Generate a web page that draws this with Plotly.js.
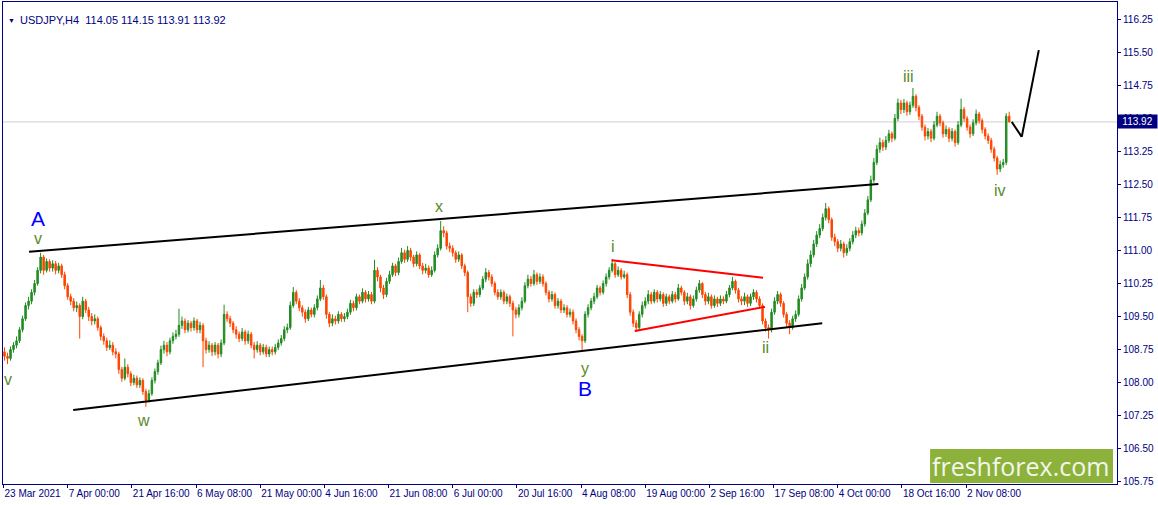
<!DOCTYPE html>
<html>
<head>
<meta charset="utf-8">
<script src="https://cdn.plot.ly/plotly-3.0.1.min.js"></script>
<style>
  html, body { margin: 0; padding: 0; background: #ffffff; }
  #chart { width: 1158px; height: 505px; }
</style>
</head>
<body>
<div id="chart"></div>
<script>
// ---------------- data (12-hour bars) ----------------
const symbolTitle = "USDJPY,H4  114.05 114.15 113.91 113.92";
const firstBar = "2021-03-23T12:00";   // first bar time, bars every 12 h, weekends skipped

const opens = [
108.70,108.60,108.55,108.75,108.85,108.95,109.20,109.45,109.75,109.85,
110.05,110.25,110.55,110.85,110.55,110.75,110.60,110.70,110.55,110.65,
110.45,110.20,109.95,109.85,109.70,109.75,109.50,109.85,109.65,109.50,
109.40,109.45,109.25,109.05,108.95,108.80,108.85,108.70,108.65,108.30,
108.10,108.35,108.20,108.00,108.10,107.95,108.05,107.80,107.60,107.75,
108.05,108.25,108.45,108.75,108.85,108.70,108.95,109.05,109.10,109.30,
109.40,109.20,109.35,109.25,109.40,109.20,109.30,108.95,108.75,108.85,
108.70,108.85,108.65,108.90,109.55,109.45,109.35,109.20,109.10,109.00,
109.15,108.95,109.10,108.85,108.75,108.85,108.70,108.80,108.65,108.75,
108.70,108.80,108.90,109.00,109.20,109.25,109.75,110.05,109.85,109.70,
109.60,109.45,109.65,109.55,109.70,109.90,110.15,109.95,109.55,109.35,
109.45,109.40,109.55,109.45,109.50,109.60,109.80,109.70,109.95,109.85,
110.05,109.90,110.00,109.85,110.55,110.40,110.15,110.00,110.30,110.45,
110.65,110.50,110.75,110.95,110.80,111.00,110.85,110.70,110.90,110.65,
110.55,110.60,110.45,110.55,110.90,111.05,111.45,111.40,111.10,111.05,
110.95,110.80,110.90,110.65,110.50,109.95,109.80,110.05,110.00,110.15,
110.35,110.50,110.40,110.25,110.05,109.95,110.05,109.85,109.95,109.80,
109.65,109.55,109.70,109.85,110.20,110.35,110.25,110.45,110.30,110.40,
110.25,110.05,109.90,110.00,109.75,109.85,109.65,109.70,109.55,109.60,
109.40,109.20,109.05,108.95,109.55,109.70,109.85,109.95,110.15,110.05,
110.25,110.40,110.55,110.70,110.45,110.55,110.40,110.45,110.00,109.60,
109.35,109.25,109.55,109.75,109.85,110.00,109.85,110.05,109.90,110.00,
109.80,109.95,109.85,110.00,109.90,110.15,110.05,109.85,109.95,109.75,
109.90,110.10,110.25,110.00,109.85,109.95,109.75,109.90,109.80,109.90,
109.85,110.00,110.15,110.30,110.10,109.90,109.85,109.95,109.80,109.95,
110.05,109.90,109.75,109.40,109.25,109.20,109.60,109.85,110.00,109.80,
109.55,109.35,109.25,109.45,109.55,109.90,110.15,110.40,110.70,110.90,
111.15,111.35,111.50,111.75,111.95,111.70,111.30,111.20,111.05,111.15,
110.95,111.05,111.20,111.35,111.45,111.40,111.60,111.85,112.15,112.60,
113.00,113.30,113.45,113.35,113.50,113.65,113.55,114.00,114.35,114.20,
114.35,114.15,114.30,114.50,114.25,114.05,113.80,113.60,113.70,113.55,
113.85,114.05,113.90,113.65,113.75,113.55,113.70,113.45,113.85,114.20,
114.00,113.80,113.65,113.90,114.10,113.95,113.75,113.60,113.50,113.30,
113.10,112.85,112.95,113.00,114.05];

const highs = [
108.80,108.68,108.82,108.92,109.05,109.26,109.52,109.82,109.95,110.12,
110.33,110.62,110.95,110.90,110.82,110.80,110.78,110.76,110.72,110.70,
110.52,110.26,110.02,109.92,109.84,109.80,109.95,109.90,109.72,109.58,
109.55,109.50,109.30,109.12,109.02,108.96,108.92,108.78,108.70,108.36,
108.55,108.42,108.26,108.18,108.16,108.12,108.10,107.86,107.84,108.12,
108.32,108.52,108.84,108.95,108.92,109.02,109.14,109.20,109.68,109.50,
109.46,109.42,109.40,109.48,109.45,109.38,109.35,109.02,108.94,108.90,
108.92,108.90,108.98,109.77,109.62,109.52,109.40,109.28,109.16,109.24,
109.20,109.18,109.15,108.92,108.94,108.90,108.88,108.86,108.82,108.82,
108.88,108.98,109.08,109.28,109.34,109.84,110.17,110.10,109.92,109.76,
109.66,109.72,109.70,109.78,109.98,110.33,110.22,110.00,109.60,109.55,
109.52,109.62,109.60,109.58,109.68,109.88,109.86,110.02,110.00,110.14,
110.10,110.08,110.06,110.79,110.62,110.45,110.22,110.38,110.54,110.72,
110.70,110.84,111.06,111.02,111.10,111.06,110.90,110.98,110.94,110.72,
110.70,110.66,110.64,110.98,111.14,111.67,111.55,111.45,111.18,111.12,
111.00,110.98,110.94,110.70,110.55,110.02,110.12,110.12,110.22,110.42,
110.60,110.56,110.46,110.30,110.12,110.12,110.10,110.02,110.00,109.86,
109.72,109.78,109.94,110.28,110.45,110.42,110.56,110.50,110.48,110.46,
110.30,110.10,110.08,110.05,109.92,109.90,109.78,109.76,109.68,109.66,
109.46,109.26,109.10,109.62,109.78,109.92,110.04,110.22,110.20,110.32,
110.48,110.62,110.80,110.74,110.64,110.60,110.54,110.50,110.06,109.66,
109.42,109.62,109.84,109.94,110.10,110.06,110.12,110.10,110.08,110.05,
110.02,110.00,110.08,110.06,110.24,110.20,110.10,110.04,110.00,109.98,
110.18,110.33,110.28,110.06,110.04,110.00,109.98,109.95,109.98,109.96,
110.08,110.22,110.40,110.34,110.15,109.96,110.04,110.00,110.02,110.12,
110.10,109.96,109.80,109.46,109.32,109.68,109.94,110.08,110.05,109.85,
109.60,109.42,109.52,109.64,109.98,110.24,110.48,110.80,111.00,111.24,
111.44,111.60,111.84,112.08,112.00,111.75,111.38,111.26,111.24,111.20,
111.14,111.28,111.44,111.54,111.52,111.68,111.94,112.24,112.70,113.10,
113.40,113.56,113.52,113.60,113.74,113.70,114.10,114.45,114.42,114.44,
114.40,114.38,114.69,114.55,114.30,114.10,113.86,113.78,113.76,113.94,
114.15,114.10,113.95,113.84,113.80,113.78,113.75,113.94,114.45,114.26,
114.05,113.86,113.98,114.20,114.15,114.00,113.80,113.66,113.56,113.36,
113.15,113.04,113.08,114.12,114.15];

const lows = [
108.50,108.42,108.50,108.68,108.78,108.90,109.14,109.40,109.66,109.78,
109.98,110.20,110.48,110.45,110.50,110.52,110.52,110.46,110.48,110.38,
110.12,109.88,109.76,109.62,109.60,109.00,109.44,109.58,109.40,109.30,
109.32,109.18,108.96,108.86,108.72,108.74,108.62,108.55,108.20,108.02,
108.05,108.12,107.92,107.94,107.88,107.88,107.72,107.45,107.55,107.70,
107.98,108.18,108.40,108.66,108.60,108.64,108.88,108.98,109.04,109.22,
109.12,109.14,109.16,109.18,109.12,109.12,108.35,108.66,108.68,108.60,
108.62,108.55,108.58,108.85,109.38,109.26,109.12,109.00,108.92,108.94,
108.86,108.88,108.78,108.55,108.68,108.62,108.64,108.58,108.58,108.62,
108.64,108.74,108.84,108.94,109.12,109.20,109.70,109.78,109.62,109.50,
109.36,109.40,109.48,109.48,109.64,109.85,109.88,109.45,109.26,109.28,
109.32,109.34,109.38,109.38,109.44,109.54,109.62,109.64,109.78,109.80,
109.82,109.84,109.78,109.80,110.30,110.05,109.90,109.94,110.24,110.40,
110.42,110.44,110.70,110.72,110.74,110.76,110.62,110.64,110.58,110.46,
110.48,110.38,110.40,110.50,110.84,111.00,111.30,111.02,110.96,110.86,
110.72,110.74,110.58,110.42,109.60,109.72,109.74,109.92,109.94,110.10,
110.28,110.32,110.18,109.98,109.88,109.88,109.78,109.78,109.72,109.05,
109.46,109.48,109.64,109.80,110.14,110.18,110.20,110.22,110.24,110.18,
109.98,109.82,109.84,109.68,109.68,109.58,109.58,109.48,109.48,109.32,
109.12,108.96,108.74,108.90,109.48,109.64,109.78,109.90,109.98,110.00,
110.18,110.34,110.50,110.38,110.40,110.34,110.36,109.92,109.52,109.26,
109.15,109.20,109.48,109.68,109.78,109.78,109.80,109.82,109.84,109.72,
109.74,109.78,109.80,109.82,109.86,109.98,109.76,109.78,109.66,109.70,
109.84,110.04,109.92,109.76,109.78,109.68,109.70,109.72,109.74,109.78,
109.80,109.94,110.10,110.02,109.82,109.76,109.76,109.72,109.74,109.88,
109.82,109.68,109.32,109.16,109.00,109.14,109.54,109.78,109.72,109.48,
109.26,109.10,109.20,109.38,109.50,109.84,110.10,110.34,110.62,110.84,
111.08,111.28,111.44,111.68,111.62,111.22,111.10,110.96,110.98,110.84,
110.88,110.98,111.14,111.28,111.32,111.34,111.54,111.80,112.10,112.54,
112.94,113.22,113.26,113.28,113.44,113.46,113.50,113.94,114.10,114.12,
114.06,114.08,114.24,114.16,113.96,113.72,113.50,113.52,113.46,113.50,
113.80,113.82,113.56,113.58,113.46,113.48,113.36,113.40,113.80,113.92,
113.72,113.56,113.60,113.84,113.88,113.66,113.52,113.42,113.22,113.02,
112.72,112.78,112.88,112.94,113.91];

const closes = [
108.60,108.55,108.75,108.85,108.95,109.20,109.45,109.75,109.85,110.05,
110.25,110.55,110.85,110.55,110.75,110.60,110.70,110.55,110.65,110.45,
110.20,109.95,109.85,109.70,109.75,109.50,109.85,109.65,109.50,109.40,
109.45,109.25,109.05,108.95,108.80,108.85,108.70,108.65,108.30,108.10,
108.35,108.20,108.00,108.10,107.95,108.05,107.80,107.60,107.75,108.05,
108.25,108.45,108.75,108.85,108.70,108.95,109.05,109.10,109.30,109.40,
109.20,109.35,109.25,109.40,109.20,109.30,108.95,108.75,108.85,108.70,
108.85,108.65,108.90,109.55,109.45,109.35,109.20,109.10,109.00,109.15,
108.95,109.10,108.85,108.75,108.85,108.70,108.80,108.65,108.75,108.70,
108.80,108.90,109.00,109.20,109.25,109.75,110.05,109.85,109.70,109.60,
109.45,109.65,109.55,109.70,109.90,110.15,109.95,109.55,109.35,109.45,
109.40,109.55,109.45,109.50,109.60,109.80,109.70,109.95,109.85,110.05,
109.90,110.00,109.85,110.55,110.40,110.15,110.00,110.30,110.45,110.65,
110.50,110.75,110.95,110.80,111.00,110.85,110.70,110.90,110.65,110.55,
110.60,110.45,110.55,110.90,111.05,111.45,111.40,111.10,111.05,110.95,
110.80,110.90,110.65,110.50,109.95,109.80,110.05,110.00,110.15,110.35,
110.50,110.40,110.25,110.05,109.95,110.05,109.85,109.95,109.80,109.65,
109.55,109.70,109.85,110.20,110.35,110.25,110.45,110.30,110.40,110.25,
110.05,109.90,110.00,109.75,109.85,109.65,109.70,109.55,109.60,109.40,
109.20,109.05,108.95,109.55,109.70,109.85,109.95,110.15,110.05,110.25,
110.40,110.55,110.70,110.45,110.55,110.40,110.45,110.00,109.60,109.35,
109.25,109.55,109.75,109.85,110.00,109.85,110.05,109.90,110.00,109.80,
109.95,109.85,110.00,109.90,110.15,110.05,109.85,109.95,109.75,109.90,
110.10,110.25,110.00,109.85,109.95,109.75,109.90,109.80,109.90,109.85,
110.00,110.15,110.30,110.10,109.90,109.85,109.95,109.80,109.95,110.05,
109.90,109.75,109.40,109.25,109.20,109.60,109.85,110.00,109.80,109.55,
109.35,109.25,109.45,109.55,109.90,110.15,110.40,110.70,110.90,111.15,
111.35,111.50,111.75,111.95,111.70,111.30,111.20,111.05,111.15,110.95,
111.05,111.20,111.35,111.45,111.40,111.60,111.85,112.15,112.60,113.00,
113.30,113.45,113.35,113.50,113.65,113.55,114.00,114.35,114.20,114.35,
114.15,114.30,114.50,114.25,114.05,113.80,113.60,113.70,113.55,113.85,
114.05,113.90,113.65,113.75,113.55,113.70,113.45,113.85,114.20,114.00,
113.80,113.65,113.90,114.10,113.95,113.75,113.60,113.50,113.30,113.10,
112.85,112.95,113.00,114.05,113.92];

const lastPrice = 113.92;

// axis tick labels
const priceTicks = [105.75,106.50,107.25,108.00,108.75,109.50,110.25,111.00,111.75,112.50,113.25,114.00,114.75,115.50,116.25];
const timeTickDates = ["2021-03-23 08:00","2021-04-07 00:00","2021-04-21 16:00","2021-05-06 08:00","2021-05-21 00:00",
  "2021-06-04 16:00","2021-06-21 08:00","2021-07-06 00:00","2021-07-20 16:00","2021-08-04 08:00",
  "2021-08-19 00:00","2021-09-02 16:00","2021-09-17 08:00","2021-10-04 00:00","2021-10-18 16:00","2021-11-02 08:00"];
const timeTickLabels = ["23 Mar 2021","7 Apr 00:00","21 Apr 16:00","6 May 08:00","21 May 00:00","4 Jun 16:00",
  "21 Jun 08:00","6 Jul 00:00","20 Jul 16:00","4 Aug 08:00","19 Aug 00:00","2 Sep 16:00","17 Sep 08:00",
  "4 Oct 00:00","18 Oct 16:00","2 Nov 08:00"];
const viewStart = "2021-03-23 06:00";
const viewEnd   = "2021-12-07 10:00";
const priceMin = 105.698, priceMax = 116.643;

// hand-drawn analysis objects (time, price)
const channelUpperT = ["2021-03-29 14:00","2021-10-12 18:00"], channelUpperP = [110.97,112.51];
const channelLowerT = ["2021-04-07 22:00","2021-09-29 10:00"], channelLowerP = [107.38,109.35];
const triUpperT = ["2021-08-11 10:00","2021-09-15 14:00"], triUpperP = [110.78,110.38];
const triLowerT = ["2021-08-17 06:00","2021-09-15 22:00"], triLowerP = [109.17,109.72];
const projectionT = ["2021-11-11 22:00","2021-11-15 14:00","2021-11-18 10:00"], projectionP = [113.92,113.58,115.55];

const waveText  = ["A","v","v","w","x","y","B","i","ii","iii","iv"];
const waveT     = ["2021-03-31 02:00","2021-03-31 02:00","2021-03-24 02:00","2021-04-23 14:00","2021-07-01 18:00",
                   "2021-08-04 22:00","2021-08-04 22:00","2021-08-11 14:00","2021-09-15 22:00","2021-10-19 18:00","2021-11-09 22:00"];
const waveP     = [111.72,111.28,108.06,107.13,112.01,108.33,107.86,111.10,108.79,114.96,112.37];
const waveMajor = [true,false,false,false,false,false,true,false,false,false,false];

// ---------------- build ----------------
function barTimes(startISO, count) {
  const out = [];
  let t = Date.parse(startISO + ":00Z");
  while (out.length < count) {
    const d = new Date(t);
    const wd = d.getUTCDay();
    if (wd !== 0 && wd !== 6) out.push(d.toISOString().slice(0, 16).replace("T", " "));
    t += 12 * 3600 * 1000;
  }
  return out;
}
const times = barTimes(firstBar, closes.length);

const NAVY = "#000080";
const FONT = "Liberation Sans, Arial, sans-serif";

const candles = {
  type: "candlestick",
  x: times, open: opens, high: highs, low: lows, close: closes,
  increasing: { line: { color: "#228b22", width: 1 }, fillcolor: "#228b22" },
  decreasing: { line: { color: "#ff4500", width: 1 }, fillcolor: "#ff4500" },
  whiskerwidth: 0,
  hoverinfo: "skip",
  showlegend: false
};

function segs(T, P, color, width) {
  const out = [];
  for (let i = 0; i < T.length - 1; i++) {
    out.push({ type: "line", xref: "x", yref: "y", x0: T[i], y0: P[i], x1: T[i + 1], y1: P[i + 1],
               line: { color: color, width: width } });
  }
  return out;
}

const shapes = [
  { type: "line", xref: "paper", yref: "y", x0: 0, x1: 1, y0: lastPrice, y1: lastPrice,
    line: { color: "#d0d0d0", width: 1 }, layer: "below" },
  ...segs(channelUpperT, channelUpperP, "#000000", 2),
  ...segs(channelLowerT, channelLowerP, "#000000", 2),
  ...segs(triUpperT, triUpperP, "#ff0000", 2),
  ...segs(triLowerT, triLowerP, "#ff0000", 2),
  ...segs(projectionT, projectionP, "#000000", 2),
  { type: "rect", xref: "paper", yref: "paper", x0: 0.8322, x1: 0.9964, y0: 0.002, y1: 0.0726,
    fillcolor: "#8cb23c", line: { width: 0 } }
];

const annotations = [];
for (let i = 0; i < waveText.length; i++) {
  annotations.push({
    x: waveT[i], y: waveP[i], xref: "x", yref: "y", text: waveText[i], showarrow: false,
    font: waveMajor[i] ? { family: FONT, size: 21, color: "#0000ff" }
                       : { family: FONT, size: 16, color: "#5a8a2a" },
    xanchor: "center", yanchor: "middle"
  });
}
annotations.push({
  xref: "paper", yref: "paper", x: 0.0027, y: 0.9625, xanchor: "left", yanchor: "middle",
  text: "\u25BC", showarrow: false, font: { family: FONT, size: 7, color: NAVY }
});
annotations.push({
  xref: "paper", yref: "paper", x: 0.0135, y: 0.9625, xanchor: "left", yanchor: "middle",
  text: symbolTitle.replace(/ /g, "&nbsp;"), showarrow: false, font: { family: FONT, size: 11, color: NAVY }
});
annotations.push({
  xref: "paper", yref: "y", x: 1, y: lastPrice, xanchor: "left", yanchor: "middle",
  xshift: 0, text: lastPrice.toFixed(2), showarrow: false,
  bgcolor: NAVY, borderpad: 1, font: { family: FONT, size: 10, color: "#ffffff" },
  width: 37, align: "center"
});
annotations.push({
  xref: "paper", yref: "paper", x: 0.9138, y: 0.0373, xanchor: "center", yanchor: "middle",
  text: "freshforex.com", showarrow: false,
  font: { family: "Open Sans, Noto Sans, sans-serif", size: 25, color: "#f3f6ea" }
});

const layout = {
  width: 1158, height: 505,
  margin: { l: 3, r: 41, t: 2, b: 21, pad: 0 },
  paper_bgcolor: "#ffffff", plot_bgcolor: "#ffffff",
  showlegend: false,
  xaxis: {
    type: "date",
    range: [viewStart, viewEnd],
    rangebreaks: [{ bounds: ["sat", "mon"] }],
    rangeslider: { visible: false },
    tickmode: "array", tickvals: timeTickDates, ticktext: timeTickLabels,
    tickangle: 0,
    ticklabelposition: "outside right",
    ticks: "outside", ticklen: 3, tickcolor: NAVY, tickwidth: 1,
    tickfont: { family: FONT, size: 10, color: NAVY },
    showgrid: false, zeroline: false,
    showline: true, linecolor: NAVY, linewidth: 1, mirror: true,
    fixedrange: true
  },
  yaxis: {
    side: "right",
    range: [priceMin, priceMax],
    tickmode: "array", tickvals: priceTicks, ticktext: priceTicks.map(v => v.toFixed(2)),
    ticks: "outside", ticklen: 3, tickcolor: NAVY, tickwidth: 1,
    tickfont: { family: FONT, size: 10, color: NAVY },
    showgrid: false, zeroline: false,
    showline: true, linecolor: NAVY, linewidth: 1, mirror: true,
    fixedrange: true
  },
  shapes: shapes,
  annotations: annotations
};

Plotly.newPlot("chart", [candles], layout, { displayModeBar: false, staticPlot: true });
</script>
</body>
</html>
